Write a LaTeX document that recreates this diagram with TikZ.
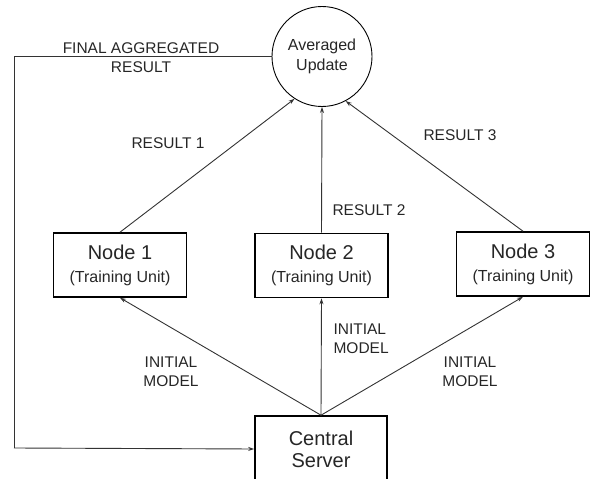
\documentclass[tikz,border=0pt]{standalone}
\usepackage{fontspec}
\setmainfont{Liberation Sans}
\usetikzlibrary{arrows.meta, positioning}

\newcommand{\unitsub}{\fontsize{16}{18}\selectfont}

\begin{document}
\begin{tikzpicture}[x=1pt, y=-1pt,
    every node/.style={text=black!85},
    unit/.style={draw, line width=1.6pt, minimum width=133pt, minimum height=64pt,
        inner sep=0pt, align=center, font=\fontsize{20}{22}\selectfont},
    hub/.style={draw, circle, line width=0.9pt, minimum size=100pt, inner sep=0pt,
        align=center, font=\fontsize{16}{20}\selectfont},
    lbl/.style={align=center, font=\fontsize{15.5}{19}\selectfont},
    link/.style={line width=0.9pt, black!80},
    flow/.style={link, -{Stealth[length=6pt, width=4pt]}}
]

% Fixed frame
\useasboundingbox (0,0) rectangle (590,479);

% Averaged update on top
\node[hub] (avg) at (322,56.5) {Averaged\\Update};

% Training nodes
\node[unit] (n1) at (120,265) {Node 1\\[1pt]{\unitsub (Training Unit)}};
\node[unit] (n2) at (321.5,265.5) {Node 2\\[1pt]{\unitsub (Training Unit)}};
\node[unit] (n3) at (523,264) {Node 3\\[1pt]{\unitsub (Training Unit)}};

% Central server at the bottom
\node[unit, minimum width=132pt, minimum height=66pt] (srv) at (321,449) {Central\\Server};

% Results going up
\draw[flow] (n1.north) -- (avg.237);
\draw[flow] (n2.north) -- (avg.south);
\draw[flow] (n3.north) -- (avg.298);

% Initial model going out
\draw[flow] (srv.north) -- (n1.south);
\draw[flow] (srv.north) -- (n2.south);
\draw[flow] (srv.north) -- (n3.south);

% Feedback loop on the left
\coordinate (fbtop) at (14,56.5);
\coordinate (fbbot) at (14,448);
\draw[link] (avg.west) -- (fbtop) -- (fbbot);
\draw[flow] (fbbot) -- (srv.west);

% Labels
\node[lbl] at (141,57.5) {FINAL AGGREGATED\\RESULT};
\node[lbl] at (168,143) {RESULT 1};
\node[lbl, anchor=west] at (329,210) {RESULT 2};
\node[lbl] at (460,135) {RESULT 3};
\node[lbl] at (171,372) {INITIAL\\MODEL};
\node[lbl, align=left, anchor=west] at (330,339) {INITIAL\\MODEL};
\node[lbl] at (470,372) {INITIAL\\MODEL};

\end{tikzpicture}
\end{document}
